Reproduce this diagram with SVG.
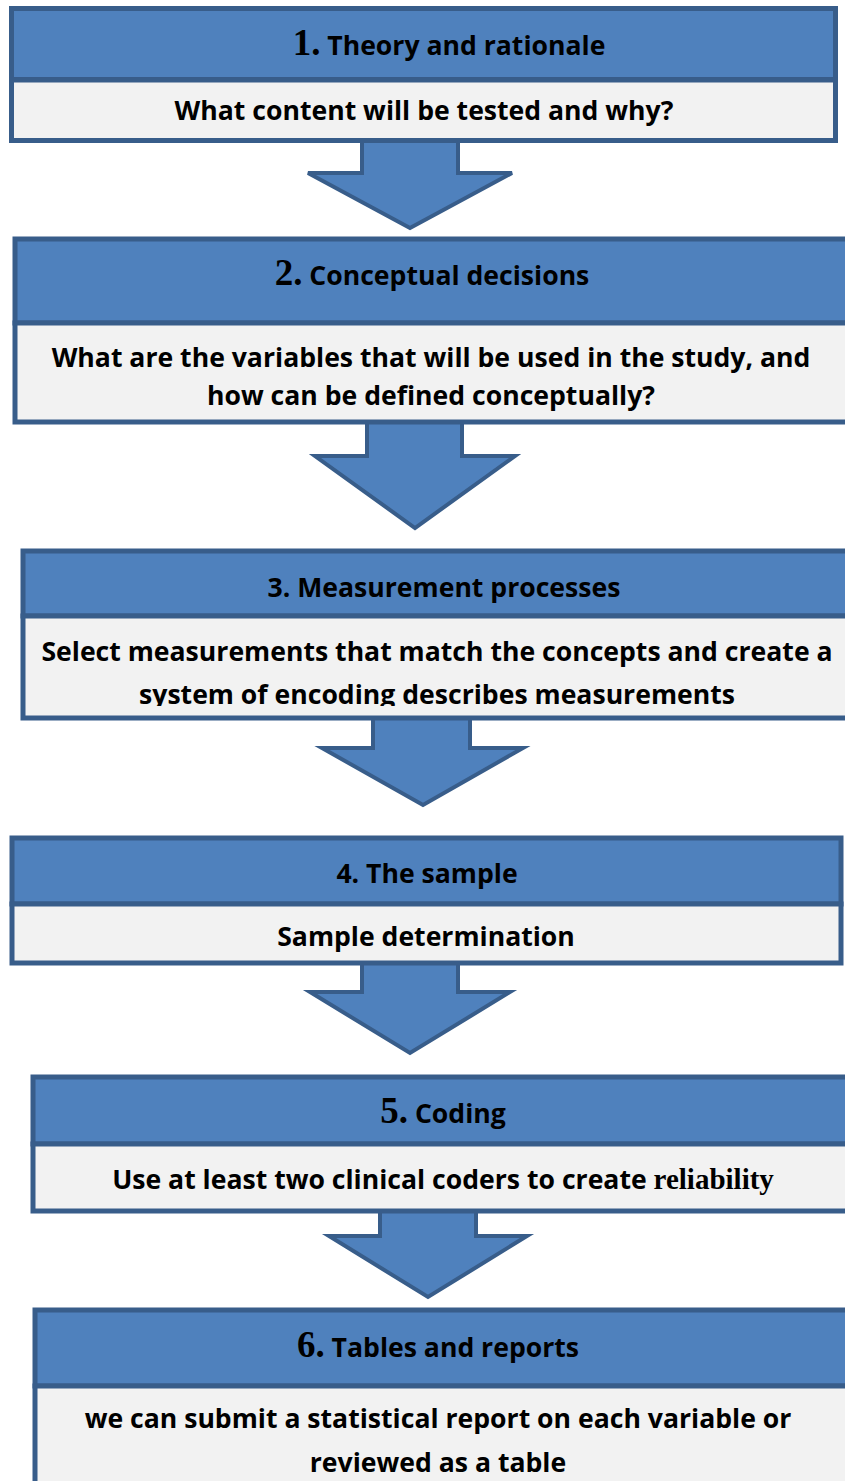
<svg xmlns="http://www.w3.org/2000/svg" width="845" height="1481" viewBox="0 0 845 1481">
<style>
.hd{fill:#4F81BD;stroke:#385D8A;stroke-width:5}
.bd{fill:#F2F2F2;stroke:#385D8A;stroke-width:5}
.ar{fill:#4F81BD;stroke:#385D8A;stroke-width:4;stroke-linejoin:miter}
.t{font-family:"Open Sans","Noto Sans",sans-serif;font-weight:bold;font-size:26.6px;fill:#000;text-anchor:middle}
.n{font-family:"Liberation Serif","Times New Roman",serif;font-weight:bold;font-size:37px}
.r{font-family:"Liberation Serif","Times New Roman",serif;font-size:29px}
</style>
<defs>
<clipPath id="c3"><rect x="0" y="617" width="845" height="89"/></clipPath>
</defs>
<g id="connectors">
<path class="ar" d="M362,142 V173 H308 L410,228 L512,173 H458 V142"/>
<path class="ar" d="M367,424 V456 H315 L415,528 L515,456 H462 V424"/>
<path class="ar" d="M373,720 V748 H322 L423,805 L523,748 H470 V720"/>
<path class="ar" d="M362,965 V992 H310 L410,1053 L510,992 H458 V965"/>
<path class="ar" d="M380,1213 V1236 H329 L428,1297 L527,1236 H476 V1213"/>
</g>
<g id="node1">
<rect class="hd" x="11.5" y="8.5" width="824" height="71"/>
<rect class="bd" x="11.5" y="80" width="824" height="60.5"/>
<text class="t" x="449" y="55"><tspan class="n">1.</tspan> Theory and rationale</text>
<text class="t" x="424" y="120">What content will be tested and why?</text>
</g>
<g id="node2">
<rect class="hd" x="15" y="239" width="840" height="84"/>
<rect class="bd" x="15" y="323" width="840" height="99"/>
<text class="t" x="432" y="285"><tspan class="n">2.</tspan> Conceptual decisions</text>
<text class="t" x="431" y="367">What are the variables that will be used in the study, and</text>
<text class="t" x="431" y="405">how can be defined conceptually?</text>
</g>
<g id="node3">
<rect class="hd" x="23" y="551" width="840" height="65"/>
<rect class="bd" x="23" y="616" width="840" height="102"/>
<text class="t" x="444" y="597">3. Measurement processes</text>
<text class="t" x="437" y="661">Select measurements that match the concepts and create a</text>
<text class="t" x="437" y="704" clip-path="url(#c3)">system of encoding describes measurements</text>
</g>
<g id="node4">
<rect class="hd" x="12" y="838" width="829" height="66"/>
<rect class="bd" x="12" y="904" width="829" height="59"/>
<text class="t" x="427" y="883">4. The sample</text>
<text class="t" x="426" y="946">Sample determination</text>
</g>
<g id="node5">
<rect class="hd" x="33" y="1077" width="830" height="67"/>
<rect class="bd" x="33" y="1144" width="830" height="67"/>
<text class="t" x="443" y="1123"><tspan class="n">5.</tspan> Coding</text>
<text class="t" x="443" y="1189">Use at least two clinical coders to create <tspan class="r">reliability</tspan></text>
</g>
<g id="node6">
<rect class="hd" x="35" y="1310" width="830" height="76"/>
<rect class="bd" x="35" y="1386" width="830" height="110"/>
<text class="t" x="438" y="1357"><tspan class="n">6.</tspan> Tables and reports</text>
<text class="t" x="438" y="1428">we can submit a statistical report on each variable or</text>
<text class="t" x="438" y="1472">reviewed as a table</text>
</g>
</svg>
